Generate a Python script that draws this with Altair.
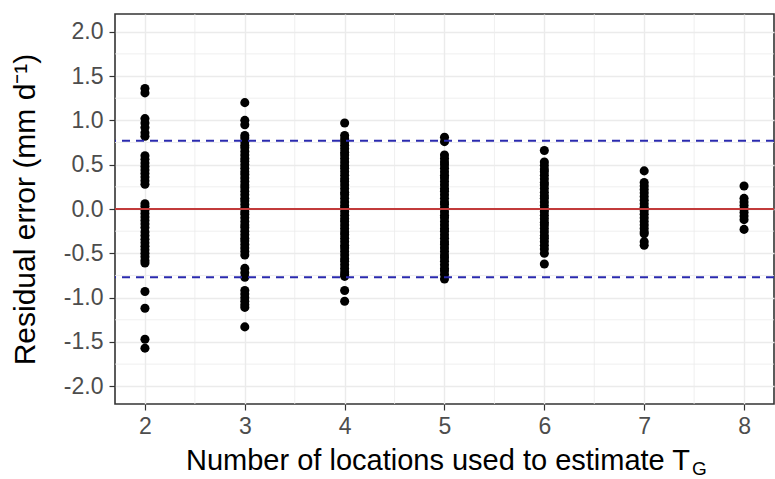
import altair as alt
import pandas as pd

# ---- data ----
n_locations = [2, 3, 4, 5, 6, 7, 8]

res_2 = [1.36, 1.31, 1.02, 0.97, 0.92, 0.86, 0.82,
         0.60, 0.56, 0.52, 0.48, 0.44, 0.40, 0.36, 0.32, 0.28,
         0.06, 0.03, -0.01, -0.05, -0.09, -0.13, -0.17, -0.21, -0.26,
         -0.30, -0.34, -0.38, -0.42, -0.46, -0.50, -0.54, -0.58, -0.61,
         -0.93, -1.12, -1.47, -1.57]

res_3 = [1.20, 1.00, 0.95,
         0.83, 0.80, 0.76, 0.72, 0.69, 0.65, 0.61, 0.57, 0.54, 0.50,
         0.46, 0.42, 0.39, 0.35, 0.31, 0.27, 0.24, 0.20, 0.16, 0.12,
         0.09, 0.05, 0.01, -0.03, -0.06, -0.10, -0.14, -0.18, -0.21,
         -0.25, -0.29, -0.33, -0.36, -0.40, -0.44, -0.48, -0.52,
         -0.67, -0.72, -0.77,
         -0.92, -0.96, -1.00, -1.04, -1.08, -1.11,
         -1.33]

res_4 = [0.97,
         0.83, 0.79, 0.76, 0.72, 0.68, 0.64, 0.61, 0.57, 0.53, 0.49,
         0.46, 0.42, 0.38, 0.34, 0.31, 0.27, 0.23, 0.19, 0.16, 0.12,
         0.08, 0.04, 0.01, -0.03, -0.07, -0.11, -0.14, -0.18, -0.22,
         -0.26, -0.29, -0.33, -0.37, -0.41, -0.44, -0.48, -0.52, -0.56,
         -0.59, -0.63, -0.67, -0.71, -0.74, -0.76,
         -0.92, -1.04]

res_5 = [0.81, 0.76,
         0.61, 0.57, 0.53, 0.50, 0.46, 0.42, 0.38, 0.35, 0.31, 0.27,
         0.23, 0.20, 0.16, 0.12, 0.08, 0.05, 0.01, -0.03, -0.07, -0.10,
         -0.14, -0.18, -0.22, -0.25, -0.29, -0.33, -0.37, -0.40, -0.44,
         -0.48, -0.52, -0.55, -0.59, -0.63, -0.67, -0.70, -0.74, -0.79]

res_6 = [0.66,
         0.53, 0.49, 0.45, 0.42, 0.38, 0.34, 0.30, 0.27, 0.23, 0.19,
         0.15, 0.12, 0.08, 0.04, 0.00, -0.03, -0.07, -0.11, -0.15,
         -0.18, -0.22, -0.26, -0.30, -0.33, -0.37, -0.41, -0.45, -0.50,
         -0.62]

res_7 = [0.43,
         0.30, 0.26, 0.22, 0.18, 0.14, 0.10, 0.06, 0.02, -0.02, -0.06,
         -0.10, -0.14, -0.18, -0.22, -0.26, -0.28,
         -0.37, -0.41]

res_8 = [0.26,
         0.12, 0.08, 0.04, 0.00, -0.04, -0.08, -0.12,
         -0.23]

error_limit = 0.77

x_ticks = [2, 3, 4, 5, 6, 7, 8]
y_ticks = [-2.0, -1.5, -1.0, -0.5, 0.0, 0.5, 1.0, 1.5, 2.0]
minor_x = [2.5, 3.5, 4.5, 5.5, 6.5, 7.5]
minor_y = [-1.75, -1.25, -0.75, -0.25, 0.25, 0.75, 1.25, 1.75]

# ---- tables ----
rows = []
for n, vals in zip(n_locations, [res_2, res_3, res_4, res_5, res_6, res_7, res_8]):
    for v in vals:
        rows.append({"n": n, "resid": v})
df = pd.DataFrame(rows)

FONT = "Liberation Sans"
GRID = "#EBEBEB"

xscale = alt.Scale(domain=[1.7, 8.3], nice=False, zero=False)
yscale = alt.Scale(domain=[-2.2, 2.2], nice=False, zero=False)

xaxis = alt.Axis(values=x_ticks, format="d", title=None, grid=True,
                 gridColor=GRID, gridWidth=1.4, domain=False,
                 ticks=True, tickColor="#333333", tickSize=6, tickWidth=1.2,
                 labelFont=FONT, labelFontSize=23, labelColor="#4D4D4D",
                 labelPadding=5, labelFlush=False)
yaxis = alt.Axis(values=y_ticks,
                 labelExpr="replace(format(datum.value, '.1f'), '\u2212', '-')",
                 title="Residual error (mm d\u207b\u00b9)", grid=True,
                 gridColor=GRID, gridWidth=1.4, domain=False,
                 ticks=True, tickColor="#333333", tickSize=6, tickWidth=1.2,
                 labelFont=FONT, labelFontSize=23, labelColor="#4D4D4D",
                 labelPadding=6, labelFlush=False,
                 titleFont=FONT, titleFontSize=30, titleFontWeight="normal",
                 titleColor="black", titlePadding=23)

minor_vx = alt.Chart(pd.DataFrame({"n": minor_x})).mark_rule(
    color=GRID, strokeWidth=0.8).encode(
    x=alt.X("n:Q", scale=xscale, axis=xaxis))
minor_hy = alt.Chart(pd.DataFrame({"resid": minor_y})).mark_rule(
    color=GRID, strokeWidth=0.8).encode(
    y=alt.Y("resid:Q", scale=yscale, axis=yaxis))

points = alt.Chart(df).mark_circle(color="black", opacity=1, size=82).encode(
    x=alt.X("n:Q", scale=xscale, axis=xaxis),
    y=alt.Y("resid:Q", scale=yscale, axis=yaxis),
)

zero_line = alt.Chart(pd.DataFrame({"resid": [0.0]})).mark_rule(
    color="#C23B3B", strokeWidth=1.8).encode(
    y=alt.Y("resid:Q", scale=yscale, axis=yaxis))

limit_lines = alt.Chart(pd.DataFrame({"resid": [error_limit, -error_limit]})).mark_rule(
    color="#2A2AAE", strokeWidth=1.8, strokeDash=[8, 6]).encode(
    y=alt.Y("resid:Q", scale=yscale, axis=yaxis))

x_title = alt.Chart(pd.DataFrame({"t": ["Number of locations used to estimate T"]})).mark_text(
    align="right", baseline="alphabetic", font=FONT, fontSize=29, color="black").encode(
    x=alt.value(575), y=alt.value(456), text="t:N")
x_title_sub = alt.Chart(pd.DataFrame({"t": ["G"]})).mark_text(
    align="left", baseline="alphabetic", font=FONT, fontSize=19, color="black").encode(
    x=alt.value(577), y=alt.value(461), text="t:N")

chart = alt.layer(minor_vx, minor_hy, points, zero_line, limit_lines,
                  x_title, x_title_sub).properties(
    width=659, height=390,
    autosize=alt.AutoSizeParams(type="none"),
    padding={"left": 115, "top": 14, "right": 1, "bottom": 75},
    background="white",
).configure_view(stroke="#333333", strokeWidth=1.6)

chart.save("out.html", embed_options={"renderer": "svg", "actions": False})
